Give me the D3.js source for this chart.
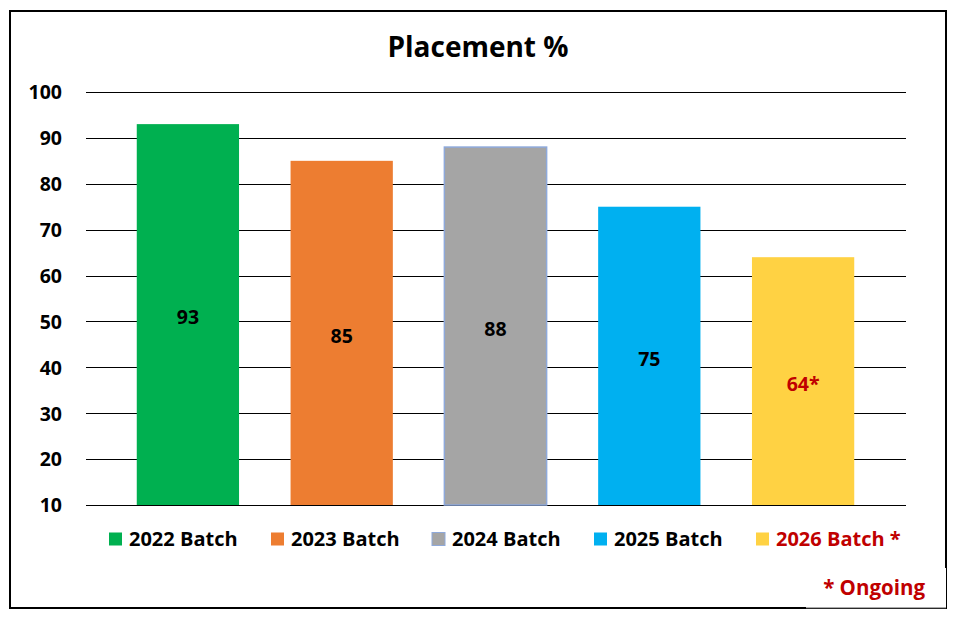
<!DOCTYPE html>
<html><head><meta charset="utf-8">
<script src="https://cdn.jsdelivr.net/npm/d3@7"></script>
<style>
html,body{margin:0;padding:0;background:#fff;}
svg{display:block;font-family:"Open Sans",sans-serif;font-weight:bold;}
</style></head>
<body><svg id="c" width="958" height="619"></svg>
<script>
const categories = ["2022 Batch","2023 Batch","2024 Batch","2025 Batch","2026 Batch *"];
const values = [93,85,88,75,64];
const valueLabels = ["93","85","88","75","64*"];
const colors = ["#00B050","#ED7D31","#A5A5A5","#00B0F0","#FFD243"];
const yTicks = [10,20,30,40,50,60,70,80,90,100];
const title = "Placement %";
const note = "* Ongoing";

const svg = d3.select("#c");
const red = "#C00000";
const FF = "Open Sans";

// frame
svg.append("rect").attr("x",10).attr("y",11).attr("width",936).attr("height",597)
  .attr("fill","#fff").attr("stroke","#000").attr("stroke-width",2);

const y = d3.scaleLinear().domain([10,100]).range([505,92]);
const x = d3.scaleBand().domain(categories).range([111,880]).paddingInner(0.335).paddingOuter(0.1675);

// gridlines
svg.append("g").selectAll("line").data(yTicks).join("line")
  .attr("x1",86).attr("x2",906).attr("y1",d=>Math.round(y(d))+0.5).attr("y2",d=>Math.round(y(d))+0.5)
  .attr("stroke","#000").attr("stroke-width",1.2);

// y axis labels
const yAxis = d3.axisLeft(y).tickValues(yTicks).tickSize(0).tickPadding(0);
const ga = svg.append("g").attr("transform","translate(62,0)").call(yAxis);
ga.select(".domain").remove();
ga.selectAll("text").attr("font-size",19.5).attr("font-family",FF).attr("font-weight","bold").attr("fill","#000").attr("dy","0.35em");

// bars
svg.append("g").selectAll("rect").data(values).join("rect")
  .attr("x",(d,i)=>x(categories[i])).attr("width",x.bandwidth())
  .attr("y",d=>y(d)).attr("height",d=>y(10)-y(d))
  .attr("fill",(d,i)=>colors[i])
  .attr("stroke",(d,i)=>i===2?"#8EA9DB":"none").attr("stroke-width",1.5);

// value labels
svg.append("g").selectAll("text").data(values).join("text")
  .attr("x",(d,i)=>x(categories[i])+x.bandwidth()/2)
  .attr("y",d=>(y(d)+y(10))/2+3)
  .attr("text-anchor","middle").attr("dy","0.35em")
  .attr("font-size",19.5).attr("fill",(d,i)=>i===4?red:"#000")
  .text((d,i)=>valueLabels[i]);

// title
svg.append("text").attr("x",478).attr("y",47).attr("text-anchor","middle").attr("dy","0.35em")
  .attr("font-size",28).attr("fill","#000").text(title);

// legend
const legX = [109,271,432,594,756];
const lg = svg.append("g").selectAll("g").data(categories).join("g")
  .attr("transform",(d,i)=>`translate(${legX[i]},539)`);
lg.append("rect").attr("x",0).attr("y",-6.5).attr("width",13).attr("height",13)
  .attr("fill",(d,i)=>colors[i]).attr("stroke",(d,i)=>i===2?"#8EA9DB":"none");
lg.append("text").attr("x",20).attr("y",0).attr("dy","0.35em").attr("font-size",20)
  .attr("fill",(d,i)=>i===4?red:"#000").text(d=>d);

// note box
svg.append("rect").attr("x",806).attr("y",568).attr("width",140).attr("height",40).attr("fill","#fff")
  .attr("stroke","none");
svg.append("line").attr("x1",806).attr("x2",946).attr("y1",608).attr("y2",608).attr("stroke","#555").attr("stroke-width",1);
svg.append("text").attr("x",925).attr("y",588).attr("text-anchor","end").attr("dy","0.35em")
  .attr("font-size",20.5).attr("fill",red).text(note);
</script></body></html>
